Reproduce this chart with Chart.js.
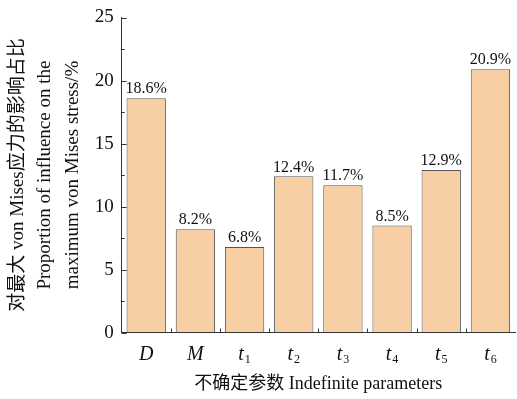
<!DOCTYPE html>
<html>
<head>
<meta charset="utf-8">
<script src="https://cdn.jsdelivr.net/npm/chart.js@4.4.0/dist/chart.umd.min.js"></script>
<style>
  html, body { margin: 0; padding: 0; background: #fff; }
  #wrap { width: 517px; height: 399px; position: relative; }
</style>
</head>
<body>
<div id="wrap"><canvas id="bar"></canvas></div>
<script>
// dữ liệu
const categories = ['D', 'M', 't1', 't2', 't3', 't4', 't5', 't6'];
const proportions = [18.6, 8.2, 6.8, 12.4, 11.7, 8.5, 12.9, 20.9];
const yTicks = [0, 5, 10, 15, 20, 25];

const SERIF = "'Liberation Serif', 'Noto Sans CJK SC', serif";
const INK = '#111';

// vẽ vạch chia hướng vào trong, nhãn trục x có chỉ số dưới, nhãn % trên cột
const extras = {
  id: 'extras',
  afterDraw(chart) {
    const ctx = chart.ctx;
    const y = chart.scales.y, x = chart.scales.x;
    ctx.save();
    ctx.strokeStyle = '#333';
    ctx.lineWidth = 1;
    // trục y: vạch chính mỗi 5, vạch phụ mỗi 2.5
    for (let v = 0; v <= 25; v += 2.5) {
      const py = Math.round(y.getPixelForValue(v)) + 0.5;
      const len = v % 5 === 0 ? 5 : 3;
      ctx.beginPath();
      ctx.moveTo(x.left, py);
      ctx.lineTo(x.left + len, py);
      ctx.stroke();
    }
    // trục x: vạch ở ranh giới các nhóm
    const step = (x.right - x.left) / categories.length;
    for (let i = 1; i < categories.length; i++) {
      const px = Math.round(x.left + i * step) + 0.5;
      ctx.beginPath();
      ctx.moveTo(px, y.bottom);
      ctx.lineTo(px, y.bottom - 4);
      ctx.stroke();
    }
    // nhãn trục x: chữ nghiêng + chỉ số dưới đứng
    ctx.fillStyle = INK;
    ctx.textBaseline = 'alphabetic';
    const baseY = y.bottom + 27;
    categories.forEach(function(c, i) {
      const cx = x.getPixelForTick(i);
      const main = c.charAt(0), sub = c.slice(1);
      ctx.font = "italic 20px " + SERIF;
      const w1 = ctx.measureText(main).width;
      ctx.font = "12px " + SERIF;
      const w2 = sub ? ctx.measureText(sub).width + 1 : 0;
      const left = cx - (w1 + w2) / 2;
      ctx.textAlign = 'left';
      ctx.font = "italic 20px " + SERIF;
      ctx.fillText(main, left, baseY);
      if (sub) {
        ctx.font = "12px " + SERIF;
        ctx.fillText(sub, left + w1 + 1, baseY + 3);
      }
    });
    // nhãn giá trị
    ctx.font = "16px " + SERIF;
    ctx.textAlign = 'center';
    ctx.textBaseline = 'bottom';
    chart.getDatasetMeta(0).data.forEach(function(bar, i) {
      ctx.fillText(proportions[i].toFixed(1) + '%', bar.x, bar.y - 1);
    });
    ctx.restore();
  }
};

new Chart(document.getElementById('bar'), {
  type: 'bar',
  data: {
    labels: categories,
    datasets: [{
      data: proportions,
      backgroundColor: '#f8cfa4',
      borderColor: '#555',
      borderWidth: 1,
      categoryPercentage: 1,
      barPercentage: 0.8
    }]
  },
  options: {
    responsive: true,
    maintainAspectRatio: false,
    animation: false,
    layout: { padding: { top: 4, right: 2, left: 4, bottom: 4 } },
    plugins: { legend: { display: false }, tooltip: { enabled: false } },
    scales: {
      x: {
        grid: { display: true, drawOnChartArea: false, drawTicks: false },
        border: { display: true, color: '#333', width: 1 },
        // chừa chỗ cho nhãn, nhãn thật được vẽ trong plugin
        ticks: { color: 'rgba(0,0,0,0)', padding: 9, font: { family: SERIF, size: 19, style: 'italic' } },
        title: {
          display: true, text: '不确定参数 Indefinite parameters', color: INK,
          font: { family: SERIF, size: 18 }, padding: { top: 0, bottom: 0 }
        }
      },
      y: {
        min: 0, max: 25,
        afterBuildTicks: function(scale) { scale.ticks = yTicks.map(function(v) { return { value: v }; }); },
        grid: { display: true, drawOnChartArea: false, drawTicks: false },
        border: { display: true, color: '#333', width: 1 },
        ticks: { color: INK, padding: 8, font: { family: SERIF, size: 19, lineHeight: 1 } },
        title: {
          display: true,
          text: ['对最大 von Mises应力的影响占比', 'Proportion of influence on the', 'maximum von Mises stress/%'],
          color: INK, font: { family: SERIF, size: 19, lineHeight: 1.45 }, padding: { top: 0, bottom: 0 }
        }
      }
    }
  },
  plugins: [extras]
});
</script>
</body>
</html>
